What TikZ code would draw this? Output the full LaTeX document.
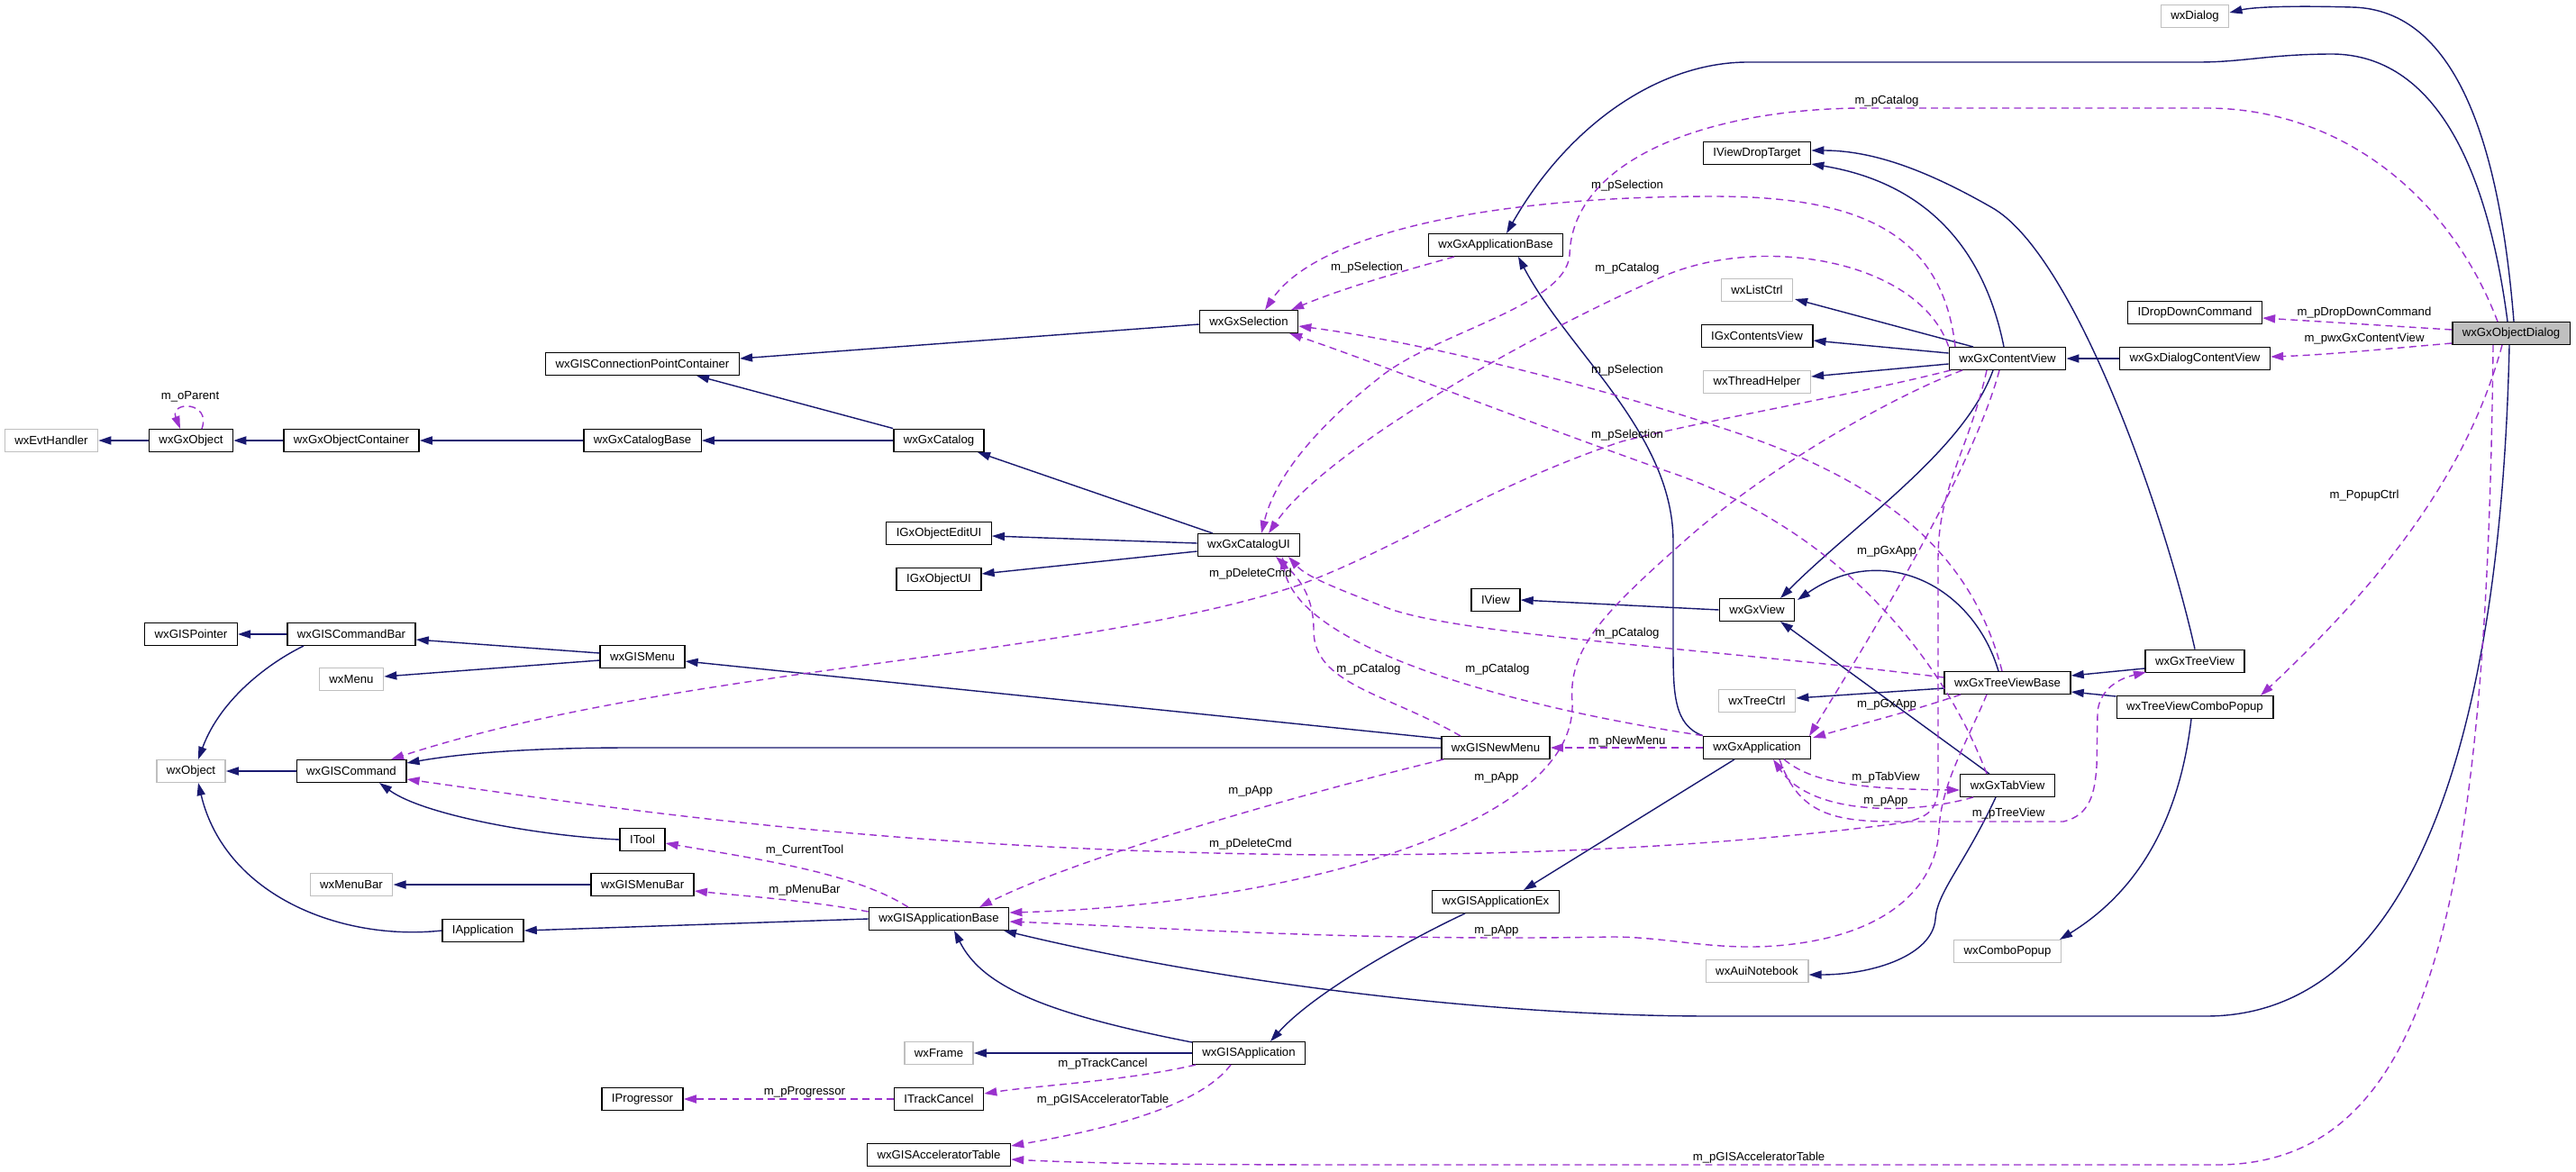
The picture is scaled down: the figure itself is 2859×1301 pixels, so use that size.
\documentclass[tikz,border=0pt]{standalone}
\usepackage{fontspec}
\newfontfamily\dotfont{Liberation Sans}
\usetikzlibrary{arrows.meta,calc}
\definecolor{inhblue}{RGB}{25,25,112}
\definecolor{usepurple}{RGB}{154,50,205}
\definecolor{extgray}{RGB}{191,191,191}
\tikzset{
  cls/.style={draw=black, fill=white, line width=0.8pt, minimum height=0.51cm, inner xsep=0.22cm, inner ysep=0pt, font=\dotfont\fontsize{7.5}{9}\selectfont},
  extcls/.style={cls, draw=extgray},
  rootcls/.style={cls, fill=extgray},
  inherit/.style={draw=inhblue, line width=0.8pt, -{Triangle[length=8pt,width=5.2pt]}},
  uses/.style={draw=usepurple, line width=0.8pt, dash pattern=on 4.5pt off 3pt, -{Triangle[length=8pt,width=5.2pt]}},
  lbl/.style={font=\dotfont\fontsize{7.5}{9}\selectfont, inner sep=1pt}
}
\begin{document}
\begin{tikzpicture}[x=0.02cm, y=-0.02cm]
  \useasboundingbox (0,0) rectangle (2859,1301);
  \fill[white] (0,0) rectangle (2859,1301);
  % classes
  \node[extcls] (wxEvtHandler) at (57,489) {wxEvtHandler};
  \node[cls] (wxGxObject) at (212,489) {wxGxObject};
  \node[cls] (wxGxObjectContainer) at (390,489) {wxGxObjectContainer};
  \node[cls] (wxGxCatalogBase) at (713,489) {wxGxCatalogBase};
  \node[cls] (wxGxCatalog) at (1042,489) {wxGxCatalog};
  \node[cls] (wxGISConnectionPointContainer) at (713,404) {wxGISConnectionPointContainer};
  \node[cls] (wxGISPointer) at (212,704) {wxGISPointer};
  \node[cls] (wxGISCommandBar) at (390,704) {wxGISCommandBar};
  \node[extcls] (wxMenu) at (390,754) {wxMenu};
  \node[cls] (wxGISMenu) at (713,729) {wxGISMenu};
  \node[extcls] (wxObject) at (212,856) {wxObject};
  \node[cls] (wxGISCommand) at (390,856) {wxGISCommand};
  \node[cls] (ITool) at (713,932) {ITool};
  \node[extcls] (wxMenuBar) at (390,982) {wxMenuBar};
  \node[cls] (wxGISMenuBar) at (713,982) {wxGISMenuBar};
  \node[cls] (IApplication) at (536,1033) {IApplication};
  \node[cls] (IProgressor) at (713,1220) {IProgressor};
  \node[cls] (wxGISApplicationBase) at (1042,1020) {wxGISApplicationBase};
  \node[cls] (wxGISApplicationEx) at (1660,1001) {wxGISApplicationEx};
  \node[extcls] (wxFrame) at (1042,1169) {wxFrame};
  \node[cls] (wxGISApplication) at (1386,1169) {wxGISApplication};
  \node[cls] (ITrackCancel) at (1042,1220) {ITrackCancel};
  \node[cls] (wxGISAcceleratorTable) at (1042,1282) {wxGISAcceleratorTable};
  \node[cls] (wxGxApplicationBase) at (1660,272) {wxGxApplicationBase};
  \node[cls] (wxGxSelection) at (1386,357) {wxGxSelection};
  \node[cls] (IGxObjectEditUI) at (1042,592) {IGxObjectEditUI};
  \node[cls] (wxGxCatalogUI) at (1386,605) {wxGxCatalogUI};
  \node[cls] (IGxObjectUI) at (1042,643) {IGxObjectUI};
  \node[cls] (IView) at (1660,666) {IView};
  \node[cls] (wxGISNewMenu) at (1660,830) {wxGISNewMenu};
  \node[extcls] (wxDialog) at (2436,18) {wxDialog};
  \node[cls] (IViewDropTarget) at (1950,170) {IViewDropTarget};
  \node[extcls] (wxListCtrl) at (1950,322) {wxListCtrl};
  \node[cls] (IGxContentsView) at (1950,373) {IGxContentsView};
  \node[extcls] (wxThreadHelper) at (1950,424) {wxThreadHelper};
  \node[cls] (wxGxContentView) at (2228,398) {wxGxContentView};
  \node[cls] (wxGxDialogContentView) at (2436,398) {wxGxDialogContentView};
  \node[cls] (IDropDownCommand) at (2436,347) {IDropDownCommand};
  \node[rootcls] (wxGxObjectDialog) at (2787,370) {wxGxObjectDialog};
  \node[cls] (wxGxView) at (1950,677) {wxGxView};
  \node[cls] (wxGxTreeViewBase) at (2228,758) {wxGxTreeViewBase};
  \node[extcls] (wxTreeCtrl) at (1950,778) {wxTreeCtrl};
  \node[cls] (wxGxTreeView) at (2436,734) {wxGxTreeView};
  \node[cls] (wxTreeViewComboPopup) at (2436,785) {wxTreeViewComboPopup};
  \node[cls] (wxGxApplication) at (1950,830) {wxGxApplication};
  \node[cls] (wxGxTabView) at (2228,872) {wxGxTabView};
  \node[extcls] (wxComboPopup) at (2228,1056) {wxComboPopup};
  \node[extcls] (wxAuiNotebook) at (1950,1078) {wxAuiNotebook};
  % inheritance
  \draw[inherit] (wxGxObject.west) -- (wxEvtHandler.east);
  \draw[inherit] (wxGxObjectContainer.west) -- (wxGxObject.east);
  \draw[inherit] (wxGxCatalogBase.west) -- (wxGxObjectContainer.east);
  \draw[inherit] (wxGxCatalog.west) -- (wxGxCatalogBase.east);
  \draw[inherit] (wxGxCatalog.north west) -- ($(wxGISConnectionPointContainer)+(60,13)$);
  \draw[inherit] ($(wxGxSelection.west)+(0,3)$) -- ($(wxGISConnectionPointContainer.east)+(0,-6)$);
  \draw[inherit] ($(wxGxCatalogUI)+(-40,-13)$) -- ($(wxGxCatalog)+(43,13)$);
  \draw[inherit] ($(wxGxCatalogUI.west)+(0,-2)$) -- ($(IGxObjectEditUI.east)+(0,3)$);
  \draw[inherit] ($(wxGxCatalogUI.west)+(0,7)$) -- ($(IGxObjectUI.east)+(0,-6)$);
  \draw[inherit] (wxGISCommandBar.west) -- (wxGISPointer.east);
  \draw[inherit] ($(wxGISCommandBar)+(-53,13)$) .. controls (300,735) and (245,775) .. ($(wxObject)+(8,-13)$);
  \draw[inherit] ($(wxGISMenu.west)+(0,-4)$) -- ($(wxGISCommandBar.east)+(0,6)$);
  \draw[inherit] ($(wxGISMenu.west)+(0,4)$) -- ($(wxMenu.east)+(0,-3)$);
  \draw[inherit] ($(wxGISNewMenu)+(-60,-10)$) -- ($(wxGISMenu.east)+(0,5)$);
  \draw[inherit] (wxGISNewMenu.west) -- (700,830) .. controls (600,830) and (520,835) .. ($(wxGISCommand.east)+(0,-9)$);
  \draw[inherit] (wxGISCommand.west) -- (wxObject.east);
  \draw[inherit] (ITool.west) .. controls (600,928) and (470,905) .. ($(wxGISCommand)+(31,13)$);
  \draw[inherit] (wxGISMenuBar.west) -- (wxMenuBar.east);
  \draw[inherit] (IApplication.west) .. controls (380,1045) and (250,995) .. ($(wxObject)+(8,13)$);
  \draw[inherit] (wxGISApplicationBase.west) -- (IApplication.east);
  \draw[inherit] ($(wxGISApplication)+(-63,-12)$) .. controls (1160,1125) and (1090,1095) .. ($(wxGISApplicationBase)+(17,13)$);
  \draw[inherit] (wxGISApplication.west) -- (wxFrame.east);
  \draw[inherit] ($(wxGISApplicationEx)+(-34,13)$) .. controls (1570,1040) and (1460,1100) .. ($(wxGISApplication)+(24,-13)$);
  \draw[inherit] ($(wxGxApplication)+(-25,13)$) -- ($(wxGISApplicationEx)+(31,-13)$);
  \draw[inherit] (wxGxApplication.north west) .. controls (1858,805) and (1857,770) .. (1857,720) -- (1857,600) .. controls (1856,480) and (1740,390) .. ($(wxGxApplicationBase)+(25,13)$);
  \draw[inherit] ($(wxGxObjectDialog)+(3,-13)$) .. controls (2775,170) and (2730,10) .. (2610,8) .. controls (2540,6) and (2500,8) .. ($(wxDialog.east)+(0,-4)$);
  \draw[inherit] ($(wxGxObjectDialog)+(-4,-13)$) .. controls (2760,180) and (2700,62) .. (2590,60) .. controls (2520,60) and (2490,69) .. (2440,69) -- (1940,69) .. controls (1840,69) and (1740,140) .. ($(wxGxApplicationBase)+(12,-13)$);
  \draw[inherit] ($(wxGxObjectDialog)+(-2,13)$) .. controls (2778,700) and (2720,1128) .. (2448,1128) -- (1900,1128) .. controls (1650,1128) and (1350,1090) .. ($(wxGISApplicationBase)+(72,13)$);
  \draw[inherit] (wxGxDialogContentView.west) -- (wxGxContentView.east);
  \draw[inherit] ($(wxGxContentView)+(-38,-13)$) -- ($(wxListCtrl)+(42,10)$);
  \draw[inherit] ($(wxGxContentView.west)+(0,-6)$) -- ($(IGxContentsView.east)+(0,5)$);
  \draw[inherit] ($(wxGxContentView.west)+(0,6)$) -- ($(wxThreadHelper.east)+(0,-6)$);
  \draw[inherit] ($(wxGxContentView)+(-4,-13)$) .. controls (2205,290) and (2150,205) .. ($(IViewDropTarget.east)+(0,12)$);
  \draw[inherit] ($(wxGxContentView)+(-16,13)$) .. controls (2180,500) and (2060,580) .. ($(wxGxView)+(26,-13)$);
  \draw[inherit] (wxGxTreeView.north) .. controls (2400,560) and (2300,280) .. (2210,230) .. controls (2140,190) and (2080,167) .. ($(IViewDropTarget.east)+(0,-3)$);
  \draw[inherit] ($(wxGxTreeView.west)+(0,8)$) -- ($(wxGxTreeViewBase.east)+(0,-8)$);
  \draw[inherit] ($(wxTreeViewComboPopup.west)+(0,-12)$) -- ($(wxGxTreeViewBase.east)+(0,10)$);
  \draw[inherit] ($(wxTreeViewComboPopup)+(-4,13)$) .. controls (2420,900) and (2380,985) .. ($(wxComboPopup)+(58,-13)$);
  \draw[inherit] ($(wxGxTreeViewBase)+(-10,-13)$) .. controls (2190,650) and (2090,600) .. ($(wxGxView)+(45,-11)$);
  \draw[inherit] ($(wxGxTreeViewBase.west)+(0,6)$) -- ($(wxTreeCtrl.east)+(0,-3)$);
  \draw[inherit] ($(wxGxTabView)+(-20,-13)$) -- ($(wxGxView)+(26,13)$);
  \draw[inherit] ($(wxGxTabView)+(-13,13)$) .. controls (2180,960) and (2150,990) .. (2148,1020) .. controls (2145,1060) and (2080,1082) .. ($(wxAuiNotebook.east)+(0,4)$);
  \draw[inherit] (wxGxView.west) -- (IView.east);
  % usage
  \draw[uses] ($(wxGxObject)+(12,-13)$) .. controls (235,445) and (188,445) .. ($(wxGxObject)+(-12,-13)$);
  \draw[uses] ($(wxGxObjectDialog.west)+(0,-4)$) -- ($(IDropDownCommand.east)+(0,6)$);
  \draw[uses] ($(wxGxObjectDialog.west)+(0,11)$) .. controls (2640,388) and (2580,394) .. ($(wxGxDialogContentView.east)+(0,-2)$);
  \draw[uses] ($(wxGxObjectDialog)+(-10,13)$) .. controls (2740,520) and (2650,640) .. ($(wxTreeViewComboPopup)+(73,-13)$);
  \draw[uses] ($(wxGxObjectDialog)+(-15,-13)$) .. controls (2720,220) and (2600,120) .. (2448,120) -- (2070,120) .. controls (1900,120) and (1745,175) .. (1742,283) .. controls (1738,340) and (1590,370) .. (1530,420) .. controls (1460,475) and (1415,530) .. ($(wxGxCatalogUI)+(14,-13)$);
  \draw[uses] ($(wxGxContentView)+(-58,-13)$) .. controls (2155,250) and (2050,218) .. (1900,218) .. controls (1650,218) and (1460,260) .. ($(wxGxSelection)+(18,-13)$);
  \draw[uses] ($(wxGxApplicationBase)+(-46,13)$) .. controls (1560,300) and (1490,320) .. ($(wxGxSelection)+(47,-13)$);
  \draw[uses] ($(wxGxTreeViewBase)+(-6,-13)$) .. controls (2190,620) and (2100,540) .. (1935,483) .. controls (1780,430) and (1580,380) .. ($(wxGxSelection.east)+(0,5)$);
  \draw[uses] ($(wxGxTabView)+(-23,-13)$) .. controls (2160,740) and (2050,590) .. (1850,523) .. controls (1700,470) and (1520,400) .. ($(wxGxSelection)+(45,13)$);
  \draw[uses] (wxGxContentView.north west) .. controls (2130,290) and (1960,260) .. (1850,305) .. controls (1700,370) and (1470,500) .. ($(wxGxCatalogUI)+(22,-13)$);
  \draw[uses] ($(wxGxContentView)+(-63,13)$) .. controls (2050,440) and (1900,465) .. (1800,490) .. controls (1650,540) and (1550,610) .. (1440,650) .. controls (1200,730) and (750,740) .. ($(wxGISCommand)+(44,-13)$);
  \draw[uses] ($(wxGxContentView)+(-23,13)$) .. controls (2185,500) and (2151,540) .. (2151,620) -- (2151,870) .. controls (2151,900) and (2140,910) .. (2100,915) .. controls (1900,940) and (1700,949) .. (1470,949) .. controls (1000,945) and (700,900) .. ($(wxGISCommand.east)+(0,9)$);
  \draw[uses] ($(wxGxContentView)+(-50,13)$) .. controls (2100,440) and (1960,520) .. (1870,600) .. controls (1780,680) and (1740,720) .. (1745,780) .. controls (1750,920) and (1420,1005) .. ($(wxGISApplicationBase.east)+(0,-7)$);
  \draw[uses] ($(wxGxContentView)+(-9,13)$) .. controls (2190,520) and (2080,700) .. ($(wxGxApplication)+(58,-13)$);
  \draw[uses] ($(wxGxTreeViewBase)+(-52,13)$) .. controls (2120,790) and (2060,805) .. ($(wxGxApplication)+(62,-11)$);
  \draw[uses] ($(wxGxTreeViewBase)+(-23,13)$) .. controls (2180,830) and (2155,870) .. (2152,920) .. controls (2150,980) and (2100,1040) .. (1970,1050) .. controls (1900,1055) and (1850,1040) .. (1790,1040) .. controls (1500,1045) and (1300,1030) .. ($(wxGISApplicationBase.east)+(0,3)$);
  \draw[uses] (wxGxApplication.west) -- (wxGISNewMenu.east);
  \draw[uses] (wxGxApplication.north west) .. controls (1680,785) and (1440,720) .. ($(wxGxCatalogUI)+(37,13)$);
  \draw[uses] ($(wxGISNewMenu)+(-39,-13)$) .. controls (1540,770) and (1458,760) .. (1458,700) .. controls (1458,660) and (1440,640) .. ($(wxGxCatalogUI)+(30,13)$);
  \draw[uses] ($(wxGxTreeViewBase.west)+(0,-6)$) .. controls (1900,720) and (1620,705) .. (1540,675) .. controls (1480,652) and (1450,640) .. ($(wxGxCatalogUI)+(44,13)$);
  \draw[uses] ($(wxGISNewMenu)+(-58,13)$) .. controls (1450,880) and (1200,950) .. ($(wxGISApplicationBase)+(45,-13)$);
  \draw[uses] ($(wxGxApplication)+(30,13)$) .. controls (2010,868) and (2060,876) .. ($(wxGxTabView.west)+(0,5)$);
  \draw[uses] ($(wxGxTabView)+(-38,13)$) .. controls (2120,905) and (2010,905) .. ($(wxGxApplication)+(18,13)$);
  \draw[uses] ($(wxGxApplication)+(25,13)$) .. controls (1995,900) and (2030,912) .. (2100,912) -- (2290,912) .. controls (2320,905) and (2325,880) .. (2327,850) -- (2328,790) .. controls (2330,770) and (2345,755) .. ($(wxGxTreeView)+(-54,12)$);
  \draw[uses] ($(wxGISApplicationBase)+(-34,-13)$) .. controls (950,970) and (850,955) .. ($(ITool.east)+(0,4)$);
  \draw[uses] ($(wxGISApplicationBase.west)+(0,-8)$) .. controls (900,1000) and (830,995) .. ($(wxGISMenuBar.east)+(0,7)$);
  \draw[uses] ($(wxGISApplication)+(-59,13)$) .. controls (1250,1200) and (1150,1205) .. ($(ITrackCancel.east)+(0,-6)$);
  \draw[uses] ($(wxGISApplication)+(-20,13)$) .. controls (1330,1230) and (1220,1255) .. ($(wxGISAcceleratorTable.east)+(0,-10)$);
  \draw[uses] (ITrackCancel.west) -- (IProgressor.east);
  \draw[uses] ($(wxGxObjectDialog)+(-20,13)$) .. controls (2760,1000) and (2700,1293) .. (2460,1293) -- (1500,1293) .. controls (1300,1293) and (1200,1291) .. ($(wxGISAcceleratorTable.east)+(0,5)$);
  % member names
  \node[lbl] (lParent) at (211,440) {m\_oParent};
  \node[lbl] (lDropDown) at (2624,347) {m\_pDropDownCommand};
  \node[lbl] (lContent) at (2624,376) {m\_pwxGxContentView};
  \node[lbl] (lPopup) at (2624,550) {m\_PopupCtrl};
  \node[lbl] (lCatDlg) at (2094,112) {m\_pCatalog};
  \node[lbl] (lSelCv) at (1806,206) {m\_pSelection};
  \node[lbl] (lSelAb) at (1517,297) {m\_pSelection};
  \node[lbl] (lCatCv) at (1806,298) {m\_pCatalog};
  \node[lbl] (lSelTvb) at (1806,411) {m\_pSelection};
  \node[lbl] (lSelTab) at (1806,483) {m\_pSelection};
  \node[lbl] (lDelCv) at (1388,637) {m\_pDeleteCmd};
  \node[lbl] (lGxAppCv) at (2094,612) {m\_pGxApp};
  \node[lbl] (lCatTvb) at (1806,703) {m\_pCatalog};
  \node[lbl] (lCatNm) at (1519,743) {m\_pCatalog};
  \node[lbl] (lCatGx) at (1662,743) {m\_pCatalog};
  \node[lbl] (lGxAppTvb) at (2094,782) {m\_pGxApp};
  \node[lbl] (lNewMenu) at (1806,823) {m\_pNewMenu};
  \node[lbl] (lAppNm) at (1388,878) {m\_pApp};
  \node[lbl] (lAppCv) at (1661,863) {m\_pApp};
  \node[lbl] (lTabView) at (2093,863) {m\_pTabView};
  \node[lbl] (lAppTab) at (2093,889) {m\_pApp};
  \node[lbl] (lTreeView) at (2229,903) {m\_pTreeView};
  \node[lbl] (lDelTvb) at (1388,937) {m\_pDeleteCmd};
  \node[lbl] (lTool) at (893,944) {m\_CurrentTool};
  \node[lbl] (lMenuBar) at (893,988) {m\_pMenuBar};
  \node[lbl] (lAppTvb) at (1661,1033) {m\_pApp};
  \node[lbl] (lTrack) at (1224,1181) {m\_pTrackCancel};
  \node[lbl] (lProgr) at (893,1212) {m\_pProgressor};
  \node[lbl] (lAccApp) at (1224,1221) {m\_pGISAcceleratorTable};
  \node[lbl] (lAccDlg) at (1952,1285) {m\_pGISAcceleratorTable};
\end{tikzpicture}
\end{document}
